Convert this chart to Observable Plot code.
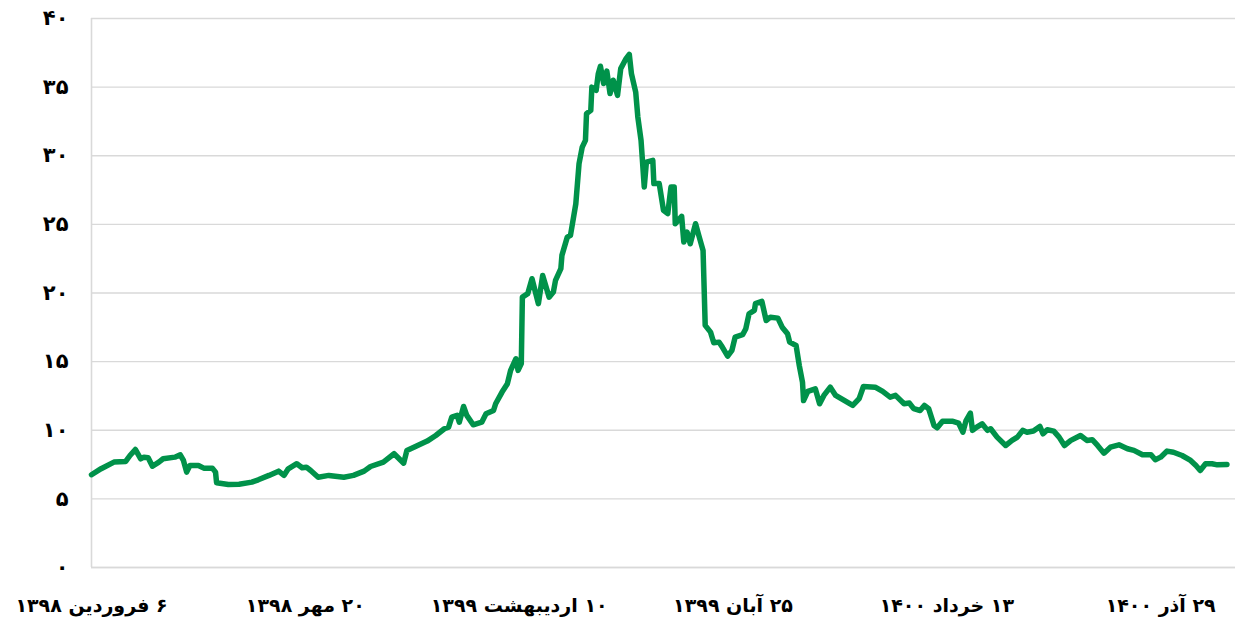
<!DOCTYPE html>
<html>
<head>
<meta charset="utf-8">
<script src="https://cdn.jsdelivr.net/npm/d3@7"></script>
<script src="https://cdn.jsdelivr.net/npm/@observablehq/plot@0.6"></script>
<style>
  html, body { margin: 0; padding: 0; background: #fff; }
  #chart { width: 1235px; height: 623px; }
</style>
</head>
<body>
<div id="chart"></div>
<script>
// Day offsets from 6 Farvardin 1398
const days = [
  0, 9, 21, 32, 36, 41, 46, 49, 53, 57, 63, 67, 78, 83, 86, 89, 92, 100, 105, 113,
  116, 117, 128, 138, 150, 156, 166, 175, 180, 184, 192, 197, 201, 205, 212, 222,
  236, 245, 255, 261, 273, 283, 292, 295, 305, 314, 322, 330, 334, 337, 342, 344,
  348, 351, 357, 365, 369, 376, 378, 384, 389, 392, 397, 399, 402,
  403, 408, 412, 418, 422, 428, 432, 434, 439, 440, 445, 448, 453, 456, 459, 462,
  463, 467, 468, 472, 474, 476, 479, 482, 485, 488, 492, 495, 500, 503, 505, 509,
  511, 514, 517, 519, 525, 526, 531, 535, 539, 542, 545, 546, 552, 554, 557, 560,
  565, 568, 572,
  574, 579, 582, 587, 590, 595, 599, 602, 609, 612, 615, 620, 621, 627, 631, 635,
  642, 646, 651, 653, 659, 662, 665, 666, 670, 677, 681, 685, 691, 696, 704, 712,
  718, 722, 733, 740, 747, 752,
  760, 765, 769, 775, 779, 783, 788, 791, 796, 805, 811, 815, 818, 822, 824, 828,
  833, 838, 841, 847, 855, 861, 866, 871, 875, 881, 887, 890, 894, 900, 905, 910, 916,
  925, 931, 936, 941, 947, 953, 961, 969, 975, 983, 991, 995, 1000, 1006, 1012,
  1020, 1028, 1033, 1037, 1042, 1048, 1053, 1062
];
const values = [
  6.76, 7.2, 7.68, 7.73, 8.16, 8.6, 7.92, 8.04, 8.0, 7.38, 7.68, 7.92, 8.04, 8.21, 7.8, 6.95, 7.43, 7.43, 7.24, 7.24,
  6.95, 6.17, 6.05, 6.07, 6.22, 6.39, 6.71, 7.02, 6.71, 7.19, 7.56, 7.27, 7.31, 7.07, 6.58, 6.71,
  6.58, 6.71, 7.02, 7.36, 7.68, 8.29, 7.6, 8.53, 8.89, 9.21, 9.62, 10.11, 10.23, 10.95, 11.08, 10.59,
  11.73, 11.08, 10.4, 10.59, 11.2, 11.44, 11.93, 12.78, 13.39, 14.36, 15.21, 14.36, 14.85,
  19.7, 19.95, 21.04, 19.22, 21.28, 19.7, 20.07, 20.92, 21.77, 22.74, 24.07, 24.2, 26.5, 29.42, 30.63, 31.12,
  33.07, 33.31, 35.0, 34.77, 35.98, 36.52, 35.26, 36.17, 34.53, 35.5, 34.4, 36.35, 37.08, 37.39, 35.98, 34.64,
  32.82, 31.12, 27.72, 29.54, 29.66, 27.97, 27.97, 26.02, 25.78, 27.72, 27.72, 25.05, 25.58, 23.71, 24.44, 23.59,
  25.05, 24.2, 23.1,
  17.64, 17.15, 16.38, 16.42, 16.06, 15.4, 15.82, 16.79, 16.96, 17.4, 18.49, 18.73, 19.22, 19.39, 18.0, 18.24,
  18.17, 17.51, 17.03, 16.42, 16.18, 14.72, 13.5, 12.17, 12.83, 13.02, 11.93, 12.54, 13.14, 12.54, 12.17, 11.81,
  12.3, 13.19, 13.14, 12.83, 12.41, 12.54,
  11.93, 11.98, 11.57, 11.44, 11.81, 11.57, 10.35, 10.18, 10.66, 10.66, 10.52, 9.86, 10.71, 11.25, 9.99, 10.23,
  10.47, 9.99, 10.11, 9.5, 8.89, 9.26, 9.5, 9.99, 9.86, 9.94, 10.28, 9.74, 10.04, 9.94, 9.5, 8.89, 9.26,
  9.62, 9.26, 9.31, 8.89, 8.33, 8.77, 8.94, 8.65, 8.53, 8.21, 8.21, 7.85, 8.04, 8.48, 8.4,
  8.16, 7.8, 7.43, 7.07, 7.56, 7.56, 7.48, 7.51
];
const xTickDays = [0, 200, 400, 600, 800, 1000];
const xTickLabels = [
  "۶ فروردین ۱۳۹۸",
  "۲۰ مهر ۱۳۹۸",
  "۱۰ اردیبهشت ۱۳۹۹",
  "۲۵ آبان ۱۳۹۹",
  "۱۳ خرداد ۱۴۰۰",
  "۲۹ آذر ۱۴۰۰"
];
const yTicks = [0, 5, 10, 15, 20, 25, 30, 35, 40];
const yTickLabels = ["۰", "۵", "۱۰", "۱۵", "۲۰", "۲۵", "۳۰", "۳۵", "۴۰"];

const data = days.map((d, i) => ({day: d, value: values[i]}));

const chart = Plot.plot({
  width: 1235,
  height: 623,
  marginTop: 18,
  marginBottom: 56,
  marginLeft: 91,
  marginRight: 0,
  style: {fontFamily: "'DejaVu Sans', sans-serif", fontSize: "19px", fontWeight: "bold", color: "#000", background: "#fff", overflow: "visible"},
  x: {domain: [0, 1070], label: null},
  y: {domain: [0, 40], label: null},
  marks: [
    Plot.gridY(yTicks, {stroke: "#d9d9d9", strokeOpacity: 1, strokeWidth: 1.4}),
    Plot.ruleX([0], {stroke: "#d9d9d9", strokeWidth: 1.6}),
    Plot.ruleY([0], {stroke: "#d9d9d9", strokeWidth: 1.6}),
    Plot.axisY(yTicks, {
      tickSize: 0, tickPadding: 23, fontSize: 21, label: null,
      tickFormat: d => yTickLabels[yTicks.indexOf(d)]
    }),
    Plot.axisX(xTickDays, {
      tickSize: 0, tickPadding: 31, fontSize: 19, label: null,
      tickFormat: d => "\u202B" + xTickLabels[xTickDays.indexOf(d)] + "\u202C"
    }),
    Plot.line(data, {x: "day", y: "value", stroke: "#00924a", strokeWidth: 5.5, strokeLinejoin: "round", strokeLinecap: "round"})
  ]
});
document.getElementById("chart").appendChild(chart);
</script>
</body>
</html>
